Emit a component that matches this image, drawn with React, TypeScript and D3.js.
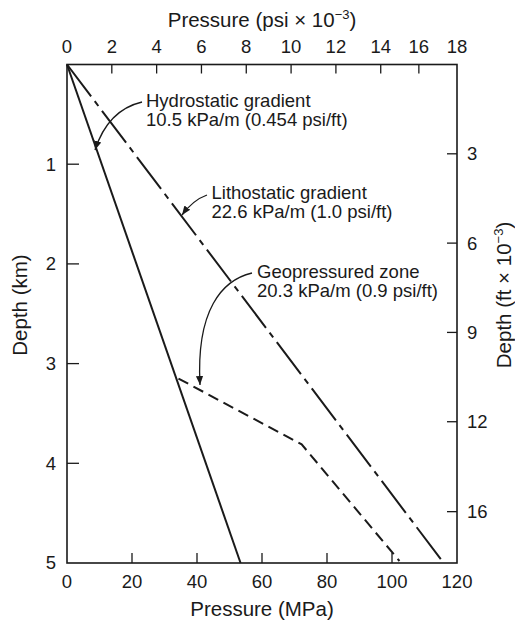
import React from "react";
import * as d3 from "d3";

// ---- data ----
const depthEnds = [0, 5]; // km
const hydroMPa = [0, 53.4];
const lithoMPa = [0, 115.9];
const geoDepthKm = [3.15, 3.81, 4.98];
const geoMPa = [34.3, 72.2, 102.3];

const mpaTicks = [0, 20, 40, 60, 80, 100, 120];
const psiTicks = [0, 2, 4, 6, 8, 10, 12, 14, 16, 18];
const kmTicks = [1, 2, 3, 4, 5];
const ftTicks = [3, 6, 9, 12, 16];

const annotations = [
  { lines: ["Hydrostatic gradient", "10.5 kPa/m (0.454 psi/ft)"] },
  { lines: ["Lithostatic gradient", "22.6 kPa/m (1.0 psi/ft)"] },
  { lines: ["Geopressured zone", "20.3 kPa/m (0.9 psi/ft)"] },
];

const W = 515;
const H = 624;
const M = { left: 67, right: 457, top: 64.5, bottom: 563 };
const FONT = "'Liberation Sans', Arial, Helvetica, sans-serif";
const INK = "#1a1a1a";
const TICK_FS = 18.5;
const TITLE_FS = 20.5;
const NOTE_FS = 18.5;

export default function App() {
  const x = d3.scaleLinear().domain([0, 120]).range([M.left, M.right]);
  const y = d3.scaleLinear().domain([0, 5]).range([M.top, M.bottom]);
  // top axis (psi x 1e-3), as drawn in the figure
  const xPsi = d3
    .scaleLinear()
    .domain([0, 14, 18])
    .range([x(0), x(14 * 6.895), x(120)]);
  // right axis (ft x 1e-3), as drawn in the figure
  const yFt = d3
    .scaleLinear()
    .domain([0, 12, 16])
    .range([y(0), y(3.583), y(4.485)]);

  const line = d3
    .line<[number, number]>()
    .x((d) => x(d[0]))
    .y((d) => y(d[1]));

  const hydro = line(hydroMPa.map((p, i) => [p, depthEnds[i]]))!;
  const litho = line(lithoMPa.map((p, i) => [p, depthEnds[i]]))!;
  const geo = line(geoMPa.map((p, i) => [p, geoDepthKm[i]]))!;

  const txt = { fontFamily: FONT, fill: INK } as const;

  return (
    <svg
      width={W}
      height={H}
      style={{ position: "absolute", left: 0, top: 0, background: "#fff" }}
    >
      <defs>
        <marker
          id="ah"
          viewBox="0 0 10 10"
          refX="10"
          refY="5"
          markerWidth="9"
          markerHeight="9"
          markerUnits="userSpaceOnUse"
          orient="auto"
        >
          <path d="M0,1 L10,5 L0,9 z" fill={INK} />
        </marker>
      </defs>

      {/* frame */}
      <rect
        x={M.left}
        y={M.top}
        width={M.right - M.left}
        height={M.bottom - M.top}
        fill="none"
        stroke={INK}
        strokeWidth={1.6}
      />

      {/* bottom axis */}
      {mpaTicks.map((t) => (
        <g key={"b" + t}>
          {t > 0 && t < 120 && (
            <line x1={x(t)} x2={x(t)} y1={M.bottom} y2={M.bottom - 10} stroke={INK} strokeWidth={1.3} />
          )}
          <text x={x(t)} y={588} textAnchor="middle" fontSize={TICK_FS} {...txt}>
            {t}
          </text>
        </g>
      ))}
      <text x={(M.left + M.right) / 2} y={616} textAnchor="middle" fontSize={TITLE_FS} {...txt}>
        Pressure (MPa)
      </text>

      {/* top axis */}
      {psiTicks.map((t) => (
        <g key={"t" + t}>
          {t > 0 && t < 18 && (
            <line x1={xPsi(t)} x2={xPsi(t)} y1={M.top} y2={M.top + 9} stroke={INK} strokeWidth={1.3} />
          )}
          <text x={xPsi(t)} y={53} textAnchor="middle" fontSize={TICK_FS} {...txt}>
            {t}
          </text>
        </g>
      ))}
      <text x={(M.left + M.right) / 2} y={26.5} textAnchor="middle" fontSize={TITLE_FS} {...txt}>
        Pressure (psi × 10
        <tspan fontSize={13} dy={-8}>
          −3
        </tspan>
        <tspan dy={8}>)</tspan>
      </text>

      {/* left axis */}
      {kmTicks.map((t) => (
        <g key={"l" + t}>
          {t < 5 && (
            <line x1={M.left} x2={M.left + 12} y1={y(t)} y2={y(t)} stroke={INK} strokeWidth={1.3} />
          )}
          <text x={56} y={y(t)} dy="0.35em" textAnchor="end" fontSize={TICK_FS} {...txt}>
            {t}
          </text>
        </g>
      ))}
      <text
        transform={`translate(27, ${305}) rotate(-90)`}
        textAnchor="middle"
        fontSize={TITLE_FS}
        {...txt}
      >
        Depth (km)
      </text>

      {/* right axis */}
      {ftTicks.map((t) => (
        <g key={"r" + t}>
          <line x1={M.right} x2={M.right - 10} y1={yFt(t)} y2={yFt(t)} stroke={INK} strokeWidth={1.3} />
          <text x={467} y={yFt(t)} dy="0.35em" textAnchor="start" fontSize={TICK_FS} {...txt}>
            {t}
          </text>
        </g>
      ))}
      <text
        transform={`translate(511, ${295}) rotate(-90)`}
        textAnchor="middle"
        fontSize={TITLE_FS}
        {...txt}
      >
        Depth (ft × 10
        <tspan fontSize={13} dy={-8}>
          −3
        </tspan>
        <tspan dy={8}>)</tspan>
      </text>

      {/* gradient lines */}
      <path d={hydro} fill="none" stroke={INK} strokeWidth={2} />
      <path d={litho} fill="none" stroke={INK} strokeWidth={2} strokeDasharray="40,6,6,6" />
      <path d={geo} fill="none" stroke={INK} strokeWidth={2} strokeDasharray="11,6" />

      {/* annotations */}
      <text x={146} y={106.5} fontSize={NOTE_FS} {...txt}>
        <tspan x={146}>{annotations[0].lines[0]}</tspan>
        <tspan x={146} dy={19}>{annotations[0].lines[1]}</tspan>
      </text>
      <path d="M142,102 Q108,110 95,150" fill="none" stroke={INK} strokeWidth={1.3} markerEnd="url(#ah)" />

      <text x={211.5} y={199} fontSize={NOTE_FS} {...txt}>
        <tspan x={211.5}>{annotations[1].lines[0]}</tspan>
        <tspan x={211.5} dy={19}>{annotations[1].lines[1]}</tspan>
      </text>
      <path d="M207,195 Q193,200 182,215" fill="none" stroke={INK} strokeWidth={1.3} markerEnd="url(#ah)" />

      <text x={257} y={278} fontSize={NOTE_FS} {...txt}>
        <tspan x={257}>{annotations[2].lines[0]}</tspan>
        <tspan x={257} dy={19}>{annotations[2].lines[1]}</tspan>
      </text>
      <path
        d="M252,273 C222,280 196,310 200,385"
        fill="none"
        stroke={INK}
        strokeWidth={1.3}
        markerEnd="url(#ah)"
      />
    </svg>
  );
}
